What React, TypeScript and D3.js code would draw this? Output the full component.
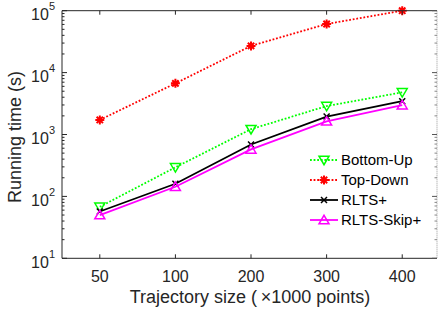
import React from "react";
import * as d3 from "d3";

const categories = ["50", "100", "200", "300", "400"];
const bottomUp = [68, 295, 1220, 2880, 4800];
const topDown = [1720, 6700, 27000, 61000, 100000];
const rltsPlus = [57, 160, 690, 1950, 3450];
const rltsSkipPlus = [50, 143, 575, 1630, 2980];
const yTickExps = [1, 2, 3, 4, 5];
const legendLabels = ["Bottom-Up", "Top-Down", "RLTS+", "RLTS-Skip+"];

const W = 438, H = 316;
const L = 62, R = 437, T = 10.7, B = 258.3;
const axisColor = "#262626";

type Marker = "down" | "star" | "x" | "up";

function MarkerShape({ type, x, y, color }: { type: Marker; x: number; y: number; color: string }) {
  if (type === "down") {
    const s = 5;
    return <path d={`M${x - s},${y - s * 0.75}L${x + s},${y - s * 0.75}L${x},${y + s * 0.95}Z`} fill="none" stroke={color} strokeWidth={1.5} />;
  }
  if (type === "up") {
    const s = 5;
    return <path d={`M${x - s},${y + s * 0.75}L${x + s},${y + s * 0.75}L${x},${y - s * 0.95}Z`} fill="none" stroke={color} strokeWidth={1.5} />;
  }
  if (type === "x") {
    const s = 3;
    return <path d={`M${x - s},${y - s}L${x + s},${y + s}M${x - s},${y + s}L${x + s},${y - s}`} stroke={color} strokeWidth={1.5} />;
  }
  const s = 4.5;
  const d = s * 0.707;
  return (
    <path
      d={`M${x - s},${y}L${x + s},${y}M${x},${y - s}L${x},${y + s}M${x - d},${y - d}L${x + d},${y + d}M${x - d},${y + d}L${x + d},${y - d}`}
      stroke={color}
      strokeWidth={2}
    />
  );
}

export default function App() {
  const x = d3.scaleLinear().domain([-0.5, 4.46]).range([L, R]);
  const y = d3.scaleLog().domain([10, 100000]).range([B, T]);

  const series = [
    { name: legendLabels[0], data: bottomUp, color: "#00ff00", dash: "1.8 1.8", marker: "down" as Marker },
    { name: legendLabels[1], data: topDown, color: "#ff0000", dash: "1.8 1.8", marker: "star" as Marker },
    { name: legendLabels[2], data: rltsPlus, color: "#000000", dash: undefined, marker: "x" as Marker },
    { name: legendLabels[3], data: rltsSkipPlus, color: "#ff00ff", dash: undefined, marker: "up" as Marker },
  ];

  const line = d3
    .line<number>()
    .x((_, i) => x(i))
    .y((d) => y(d));

  const minorTicks: number[] = [];
  for (let e = 1; e < 5; e++) {
    for (let m = 2; m <= 9; m++) minorTicks.push(m * Math.pow(10, e));
  }

  return (
    <svg width={W} height={H} style={{ position: "absolute", left: 0, top: 0 }} fontFamily="'Liberation Sans', Arial, sans-serif">
      <rect x={0} y={0} width={W} height={H} fill="#fff" />
      {series.map((s) => (
        <g key={s.name}>
          <path d={line(s.data) || ""} fill="none" stroke={s.color} strokeWidth={1.8} strokeDasharray={s.dash} />
          {s.data.map((v, i) => (
            <MarkerShape key={i} type={s.marker} x={x(i)} y={y(v)} color={s.color} />
          ))}
        </g>
      ))}
      <line x1={L} y1={T} x2={R} y2={T} stroke={axisColor} strokeWidth={1} />
      <line x1={L} y1={B} x2={R} y2={B} stroke={axisColor} strokeWidth={1} />
      <line x1={L} y1={T} x2={L} y2={B} stroke={axisColor} strokeWidth={1} />
      <line x1={R} y1={T} x2={R} y2={B} stroke="#999" strokeWidth={1} strokeDasharray="1 1" />
      {categories.map((c, i) => (
        <g key={c}>
          <line x1={x(i)} y1={B} x2={x(i)} y2={B - 4} stroke={axisColor} />
          <line x1={x(i)} y1={T} x2={x(i)} y2={T + 4} stroke={axisColor} />
          <text x={x(i)} y={282} textAnchor="middle" fontSize={16} fill={axisColor}>
            {c}
          </text>
        </g>
      ))}
      {yTickExps.map((e) => {
        const yy = y(Math.pow(10, e));
        return (
          <g key={e}>
            <line x1={L} y1={yy} x2={L + 5} y2={yy} stroke={axisColor} />
            <line x1={R} y1={yy} x2={R - 5} y2={yy} stroke="#555" />
            <text x={55} y={yy + 9.5} textAnchor="end" fontSize={16} fill={axisColor}>
              10
              <tspan fontSize={11} dy={-10}>
                {e}
              </tspan>
            </text>
          </g>
        );
      })}
      {minorTicks.map((v) => (
        <g key={v}>
          <line x1={L} y1={y(v)} x2={L + 2.5} y2={y(v)} stroke={axisColor} />
          <line x1={R} y1={y(v)} x2={R - 2.5} y2={y(v)} stroke="#888" />
        </g>
      ))}
      <text x={250} y={303} textAnchor="middle" fontSize={18} fill={axisColor}>
        Trajectory size ({"\u2009\u00d7"}1000 points)
      </text>
      <text transform="translate(21,137) rotate(-90)" textAnchor="middle" fontSize={18} fill={axisColor}>
        Running time (s)
      </text>
      {series.map((s, i) => {
        const ly = 160 + i * 20;
        return (
          <g key={s.name}>
            <line x1={310} y1={ly} x2={338} y2={ly} stroke={s.color} strokeWidth={1.8} strokeDasharray={s.dash} />
            <MarkerShape type={s.marker} x={324} y={ly} color={s.color} />
            <text x={341} y={ly + 5.3} fontSize={15} fill="#000">
              {s.name}
            </text>
          </g>
        );
      })}
    </svg>
  );
}
